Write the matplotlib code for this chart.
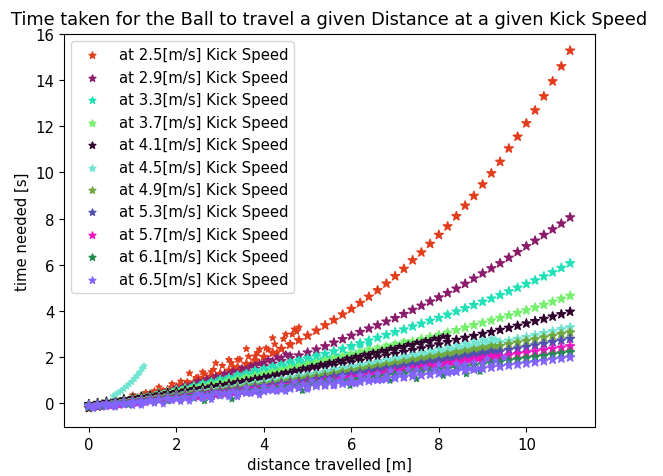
import matplotlib
matplotlib.use("Agg")
import matplotlib.pyplot as plt
import numpy as np

KICK_SPEEDS = [2.5, 2.9, 3.3, 3.7, 4.1, 4.5, 4.9, 5.3, 5.7, 6.1, 6.5]
COLORS = ['#e23d1c', '#8b1c6b', '#22e0b8', '#74f06c', '#30002e', '#72e4d2',
          '#6fa83e', '#4f4fb0', '#f012c0', '#1f8a4a', '#8464ff']

# model curve, one value every 0.2 m
MODEL_D = [0.0, 0.2, 0.4, 0.6, 0.8, 1.0, 1.2, 1.4, 1.6, 1.8, 2.0, 2.2, 2.4, 2.6, 2.8,
           3.0, 3.2, 3.4, 3.6, 3.8, 4.0, 4.2, 4.4, 4.6, 4.8, 5.0, 5.2, 5.4, 5.6, 5.8,
           6.0, 6.2, 6.4, 6.6, 6.8, 7.0, 7.2, 7.4, 7.6, 7.8, 8.0, 8.2, 8.4, 8.6, 8.8,
           9.0, 9.2, 9.4, 9.6, 9.8, 10.0, 10.2, 10.4, 10.6, 10.8, 11.0]

model_25 = [-0.22, -0.14, -0.06, 0.02, 0.10, 0.18, 0.27, 0.36, 0.46, 0.56, 0.67, 0.78, 0.89, 1.01, 1.13,
            1.26, 1.40, 1.54, 1.69, 1.84, 2.00, 2.17, 2.35, 2.53, 2.72, 2.92, 3.14, 3.37, 3.60, 3.84,
            4.08, 4.34, 4.61, 4.89, 5.18, 5.50, 5.82, 6.19, 6.53, 6.90, 7.29, 7.66, 8.10, 8.56, 8.98,
            9.48, 9.96, 10.46, 11.04, 11.55, 12.13, 12.69, 13.30, 13.95, 14.60, 15.28]
model_29 = [-0.20, -0.13, -0.06, 0.02, 0.09, 0.17, 0.25, 0.33, 0.42, 0.50, 0.59, 0.68, 0.77, 0.86, 0.96,
            1.06, 1.16, 1.27, 1.37, 1.48, 1.59, 1.71, 1.82, 1.94, 2.06, 2.19, 2.32, 2.46, 2.62, 2.77,
            2.92, 3.08, 3.23, 3.37, 3.53, 3.68, 3.86, 4.04, 4.22, 4.40, 4.58, 4.77, 4.96, 5.17, 5.40,
            5.62, 5.84, 6.06, 6.30, 6.55, 6.80, 7.04, 7.29, 7.53, 7.78, 8.05]
model_33 = [-0.15, -0.09, -0.02, 0.05, 0.12, 0.19, 0.26, 0.33, 0.41, 0.48, 0.56, 0.64, 0.72, 0.80, 0.89,
            0.97, 1.06, 1.15, 1.24, 1.33, 1.42, 1.52, 1.62, 1.72, 1.82, 1.92, 2.02, 2.13, 2.24, 2.35,
            2.47, 2.59, 2.71, 2.83, 2.95, 3.07, 3.19, 3.32, 3.44, 3.57, 3.69, 3.83, 3.97, 4.11, 4.25,
            4.39, 4.53, 4.68, 4.84, 5.00, 5.16, 5.32, 5.49, 5.67, 5.86, 6.06]
model_37 = [-0.05, 0.01, 0.06, 0.12, 0.17, 0.23, 0.29, 0.35, 0.41, 0.47, 0.53, 0.60, 0.66, 0.73, 0.79,
            0.86, 0.93, 1.00, 1.07, 1.14, 1.21, 1.29, 1.36, 1.44, 1.51, 1.59, 1.67, 1.76, 1.84, 1.93,
            2.01, 2.10, 2.19, 2.28, 2.37, 2.46, 2.56, 2.66, 2.77, 2.86, 2.95, 3.05, 3.16, 3.27, 3.38,
            3.48, 3.58, 3.69, 3.80, 3.91, 4.02, 4.14, 4.26, 4.39, 4.52, 4.65]
model_41 = [-0.05, 0.00, 0.05, 0.11, 0.16, 0.21, 0.26, 0.32, 0.37, 0.43, 0.48, 0.54, 0.60, 0.65, 0.71,
            0.77, 0.83, 0.89, 0.95, 1.02, 1.08, 1.14, 1.21, 1.28, 1.34, 1.41, 1.48, 1.55, 1.62, 1.69,
            1.76, 1.83, 1.91, 1.98, 2.06, 2.13, 2.21, 2.29, 2.37, 2.45, 2.54, 2.64, 2.74, 2.83, 2.91,
            3.00, 3.08, 3.17, 3.26, 3.35, 3.45, 3.55, 3.65, 3.75, 3.85, 3.96]
model_45 = [-0.10, -0.06, -0.01, 0.03, 0.08, 0.12, 0.17, 0.22, 0.26, 0.31, 0.36, 0.41, 0.46, 0.51, 0.56,
            0.61, 0.66, 0.71, 0.76, 0.82, 0.87, 0.93, 0.98, 1.04, 1.09, 1.15, 1.21, 1.27, 1.33, 1.39,
            1.45, 1.51, 1.58, 1.64, 1.71, 1.77, 1.84, 1.91, 1.97, 2.04, 2.11, 2.18, 2.25, 2.33, 2.40,
            2.47, 2.55, 2.63, 2.70, 2.78, 2.86, 2.94, 3.03, 3.11, 3.20, 3.28]
model_49 = [-0.10, -0.06, -0.02, 0.03, 0.07, 0.11, 0.15, 0.20, 0.24, 0.29, 0.33, 0.38, 0.43, 0.47, 0.52,
            0.57, 0.62, 0.67, 0.72, 0.77, 0.82, 0.87, 0.93, 0.98, 1.04, 1.09, 1.15, 1.20, 1.26, 1.31,
            1.37, 1.43, 1.49, 1.55, 1.61, 1.67, 1.73, 1.80, 1.86, 1.93, 1.99, 2.06, 2.13, 2.19, 2.26,
            2.33, 2.40, 2.47, 2.55, 2.62, 2.69, 2.76, 2.84, 2.91, 2.99, 3.06]
model_53 = [-0.10, -0.06, -0.02, 0.01, 0.05, 0.09, 0.13, 0.17, 0.21, 0.25, 0.29, 0.33, 0.37, 0.42, 0.46,
            0.50, 0.55, 0.59, 0.64, 0.68, 0.73, 0.78, 0.83, 0.87, 0.92, 0.97, 1.02, 1.07, 1.13, 1.18,
            1.23, 1.28, 1.34, 1.39, 1.45, 1.50, 1.56, 1.62, 1.67, 1.73, 1.79, 1.85, 1.91, 1.98, 2.04,
            2.10, 2.17, 2.23, 2.30, 2.36, 2.43, 2.50, 2.57, 2.64, 2.71, 2.78]
model_57 = [-0.10, -0.07, -0.03, 0.00, 0.04, 0.08, 0.11, 0.15, 0.19, 0.22, 0.26, 0.30, 0.34, 0.38, 0.42,
            0.46, 0.50, 0.54, 0.58, 0.62, 0.66, 0.70, 0.75, 0.79, 0.83, 0.88, 0.92, 0.97, 1.01, 1.06,
            1.11, 1.16, 1.20, 1.25, 1.30, 1.35, 1.40, 1.45, 1.51, 1.56, 1.61, 1.67, 1.72, 1.78, 1.83,
            1.89, 1.94, 2.00, 2.06, 2.12, 2.17, 2.23, 2.29, 2.35, 2.40, 2.46]
model_61 = [-0.10, -0.07, -0.04, 0.00, 0.03, 0.06, 0.09, 0.13, 0.16, 0.20, 0.23, 0.27, 0.30, 0.34, 0.37,
            0.41, 0.45, 0.49, 0.52, 0.56, 0.60, 0.64, 0.68, 0.72, 0.76, 0.80, 0.84, 0.88, 0.92, 0.96,
            1.00, 1.04, 1.09, 1.13, 1.18, 1.22, 1.26, 1.31, 1.35, 1.40, 1.44, 1.49, 1.54, 1.58, 1.63,
            1.68, 1.73, 1.78, 1.84, 1.89, 1.94, 1.99, 2.04, 2.10, 2.15, 2.20]
model_65 = [-0.12, -0.09, -0.06, -0.03, 0.00, 0.03, 0.06, 0.09, 0.13, 0.16, 0.19, 0.22, 0.25, 0.28, 0.32,
            0.35, 0.38, 0.42, 0.45, 0.49, 0.52, 0.56, 0.59, 0.63, 0.66, 0.70, 0.74, 0.77, 0.81, 0.84,
            0.88, 0.92, 0.96, 1.00, 1.04, 1.08, 1.12, 1.16, 1.20, 1.24, 1.28, 1.32, 1.36, 1.41, 1.45,
            1.49, 1.54, 1.58, 1.63, 1.67, 1.72, 1.77, 1.82, 1.88, 1.93, 1.98]

# measured samples, one every 0.1 m (each series uses the first len() distances)
MEAS_D = [0.0, 0.1, 0.2, 0.3, 0.4, 0.5, 0.6, 0.7, 0.8, 0.9, 1.0, 1.1, 1.2, 1.3, 1.4, 1.5, 1.6, 1.7, 1.8, 1.9,
          2.0, 2.1, 2.2, 2.3, 2.4, 2.5, 2.6, 2.7, 2.8, 2.9, 3.0, 3.1, 3.2, 3.3, 3.4, 3.5, 3.6, 3.7, 3.8, 3.9,
          4.0, 4.1, 4.2, 4.3, 4.4, 4.5, 4.6, 4.7, 4.8, 4.9, 5.0, 5.1, 5.2, 5.3, 5.4, 5.5, 5.6, 5.7, 5.8, 5.9,
          6.0, 6.1, 6.2, 6.3, 6.4, 6.5, 6.6, 6.7, 6.8, 6.9, 7.0, 7.1, 7.2, 7.3, 7.4, 7.5, 7.6, 7.7, 7.8, 7.9,
          8.0, 8.1, 8.2, 8.3, 8.4, 8.5, 8.6, 8.7, 8.8, 8.9, 9.0, 9.1, 9.2, 9.3, 9.4, 9.5]

meas_25 = [-0.16, -0.23, -0.10, 0.01, -0.06, -0.09, 0.13, 0.08, 0.18, 0.11, 0.34, 0.22, 0.34, 0.45, 0.31,
           0.52, 0.69, 0.54, 0.46, 0.83, 0.72, 0.94, 0.68, 1.29, 0.87, 1.11, 1.34, 0.88, 1.35, 1.73,
           1.27, 1.01, 1.88, 1.57, 1.88, 1.45, 2.35, 1.69, 2.03, 2.33, 1.66, 2.32, 2.82, 2.20, 1.84,
           2.98, 2.57, 3.20, 3.28]
# in-between red samples (x + 0.05) along the top of the wide 2.5 m/s cloud
RED_HALF_D = [1.05, 1.25, 1.45, 1.65, 1.85, 2.05, 2.25, 2.45, 2.65, 2.85, 3.05, 3.25, 3.45, 3.65,
              3.85, 4.05, 4.25, 4.45, 4.65, 4.75]
RED_HALF_T = [0.27, 0.34, 0.43, 0.50, 0.60, 0.74, 0.92, 1.10, 1.25, 1.45, 1.62, 1.75, 1.90, 2.02,
              2.18, 2.38, 2.55, 2.78, 2.98, 3.10]
meas_29 = [-0.22, -0.14, -0.17, -0.05, -0.09, 0.03, -0.02, 0.09, 0.06, 0.15, 0.13, 0.25, 0.20, 0.31, 0.36,
           0.33, 0.46, 0.43, 0.55, 0.53, 0.66, 0.62, 0.77, 0.74, 0.84, 0.95, 0.90, 1.05, 1.02, 1.17,
           1.13, 1.29, 1.25, 1.39, 1.34, 1.52, 1.47, 1.60, 1.65, 1.72, 1.76, 1.88, 1.85, 1.99, 1.97,
           2.12, 2.08]
meas_33 = [-0.18, -0.24, -0.10, -0.15, -0.02, -0.07, 0.05, 0.01, 0.12, 0.07, 0.19, 0.15, 0.26, 0.21, 0.35,
           0.29, 0.42, 0.38, 0.50, 0.45, 0.60, 0.53, 0.68, 0.63, 0.77, 0.70, 0.88, 0.79, 0.95, 0.88,
           1.07, 0.96, 1.14, 1.05, 1.26, 1.11, 1.33, 1.22, 1.45, 1.29, 1.52, 1.38, 1.63, 1.46, 1.70,
           1.55, 1.82, 1.62, 1.90, 1.71, 1.97, 1.80, 2.08, 1.86, 2.14, 1.95, 2.24, 2.02, 2.33, 2.08,
           2.41, 2.15, 2.50, 2.22, 2.57]
meas_37 = [-0.17, -0.20, -0.11, -0.14, -0.04, -0.06, 0.01, 0.04, 0.02, 0.11, 0.10, 0.18, 0.15, 0.25, 0.22,
           0.32, 0.30, 0.37, 0.39, 0.47, 0.44, 0.55, 0.52, 0.60, 0.63, 0.67, 0.74, 0.72, 0.83, 0.79,
           0.90, 0.86, 0.98, 0.95, 1.05, 1.02, 1.14, 1.10, 1.22, 1.18, 1.30, 1.26, 1.38, 1.34, 1.46,
           1.42, 1.55, 1.50, 1.63, 1.59, 1.72, 1.67, 1.80, 1.76, 1.89, 1.85, 1.98, 1.93, 2.07, 2.02,
           2.16, 2.11, 2.25, 2.20, 2.34, 2.28, 2.42, 2.37, 2.51, 2.46, 2.59, 2.54, 2.68, 2.62]
meas_41 = [-0.25, -0.18, -0.19, -0.12, -0.13, -0.07, -0.08, -0.01, -0.02, 0.04, 0.03, 0.10, 0.09, 0.16, 0.15,
           0.23, 0.21, 0.29, 0.27, 0.35, 0.34, 0.42, 0.41, 0.48, 0.47, 0.56, 0.54, 0.63, 0.61, 0.71,
           0.70, 0.78, 0.77, 0.85, 0.84, 0.93, 0.92, 1.00, 0.99, 1.08, 1.08, 1.16, 1.15, 1.25, 1.24,
           1.33, 1.32, 1.42, 1.40, 1.51, 1.50, 1.59, 1.58, 1.68, 1.67, 1.76, 1.75, 1.85, 1.84, 1.94,
           1.93, 2.02, 2.01, 2.11, 2.10, 2.19, 2.18, 2.28, 2.27, 2.37, 2.36, 2.45, 2.44, 2.54, 2.53,
           2.63, 2.62, 2.71, 2.70, 2.80, 2.80, 2.89, 2.88]
meas_45 = [-0.12, -0.17, -0.09, -0.13, -0.05, -0.09, -0.01, -0.04, 0.05, 0.00, 0.09, 0.04, 0.13, 0.09, 0.18,
           0.13, 0.24, 0.18, 0.29, 0.23, 0.34, 0.28, 0.39, 0.34, 0.45, 0.39, 0.51, 0.45, 0.57, 0.50,
           0.63, 0.56, 0.69, 0.62, 0.76, 0.68, 0.82, 0.75, 0.89, 0.81, 0.93, 0.87, 1.00, 0.94, 1.07,
           1.00, 1.14, 1.07, 1.21, 1.13, 1.25, 1.20, 1.32, 1.27, 1.40, 1.34, 1.47, 1.41, 1.54, 1.48,
           1.60, 1.55, 1.67, 1.62, 1.74, 1.69, 1.81, 1.76, 1.88, 1.83, 1.95, 1.90, 2.03, 1.97, 2.11,
           2.05, 2.18, 2.13, 2.26, 2.20, 2.33, 2.28, 2.41, 2.36, 2.49, 2.44, 2.57, 2.52, 2.65, 2.60,
           2.73, 2.67, 2.80, 2.74]
meas_49 = [-0.13, -0.17, -0.10, -0.14, -0.07, -0.10, -0.03, -0.06, 0.02, -0.02, 0.06, 0.02, 0.10, 0.06, 0.15,
           0.10, 0.19, 0.15, 0.24, 0.19, 0.28, 0.24, 0.33, 0.28, 0.38, 0.33, 0.43, 0.38, 0.48, 0.43,
           0.53, 0.49, 0.59, 0.54, 0.65, 0.60, 0.70, 0.65, 0.76, 0.71, 0.81, 0.77, 0.88, 0.83, 0.94,
           0.89, 1.00, 0.95, 1.06, 1.01, 1.12, 1.07, 1.18, 1.14, 1.25, 1.20, 1.31, 1.27, 1.38, 1.33,
           1.44, 1.39, 1.50, 1.46, 1.57, 1.52, 1.63, 1.59, 1.70, 1.65, 1.76, 1.72, 1.83, 1.78, 1.89,
           1.85, 1.96, 1.92, 2.03, 1.98, 2.09, 2.05, 2.16, 2.12, 2.23, 2.18, 2.29, 2.25, 2.36, 2.32,
           2.42, 2.38, 2.49, 2.45]
meas_53 = [-0.16, -0.20, -0.13, -0.17, -0.10, -0.13, -0.06, -0.09, -0.02, -0.05, 0.03, -0.01, 0.07, 0.03, 0.11,
           0.07, 0.15, 0.11, 0.19, 0.15, 0.23, 0.19, 0.28, 0.23, 0.32, 0.28, 0.37, 0.32, 0.42, 0.37,
           0.46, 0.42, 0.51, 0.47, 0.56, 0.52, 0.62, 0.57, 0.67, 0.62, 0.72, 0.67, 0.77, 0.73, 0.83,
           0.78, 0.88, 0.84, 0.94, 0.89, 0.99, 0.95, 1.05, 1.01, 1.11, 1.07, 1.17, 1.13, 1.23, 1.19,
           1.28, 1.24, 1.34, 1.30, 1.40, 1.36, 1.46, 1.42, 1.52, 1.48, 1.57, 1.53, 1.63, 1.59, 1.70,
           1.65, 1.76, 1.72, 1.82, 1.78, 1.88, 1.84, 1.94, 1.90, 2.00, 1.96, 2.07, 2.03, 2.13, 2.09,
           2.19, 2.15, 2.26, 2.21]
meas_57 = [-0.19, -0.22, -0.15, -0.18, -0.12, -0.14, -0.08, -0.11, -0.04, -0.07, -0.01, -0.03, 0.03, 0.00, 0.07,
           0.04, 0.11, 0.08, 0.15, 0.12, 0.19, 0.16, 0.23, 0.20, 0.27, 0.24, 0.32, 0.28, 0.36, 0.33,
           0.40, 0.37, 0.45, 0.41, 0.49, 0.46, 0.54, 0.50, 0.58, 0.55, 0.62, 0.60, 0.67, 0.64, 0.72,
           0.69, 0.77, 0.74, 0.82, 0.79, 0.87, 0.84, 0.92, 0.89, 0.97, 0.94, 1.02, 0.99, 1.07, 1.04,
           1.12, 1.10, 1.18, 1.15, 1.23, 1.21, 1.29, 1.26, 1.35, 1.32, 1.40, 1.37, 1.46, 1.43, 1.52,
           1.49, 1.57, 1.55, 1.63, 1.60, 1.68, 1.66, 1.74, 1.72, 1.80, 1.78, 1.86, 1.84, 1.92, 1.90,
           1.98, 1.96, 2.04, 2.02]
meas_65 = [-0.16, -0.24, -0.16, -0.08, -0.18, -0.10, -0.19, -0.02, -0.10, -0.03, -0.12, 0.03, -0.11, 0.02, 0.14,
           -0.02, 0.10, -0.05, 0.21, 0.09, 0.20, 0.06, 0.27, 0.07, 0.24, 0.40, 0.18, 0.33, 0.14, 0.45,
           0.31, 0.43, 0.26, 0.51, 0.26, 0.47, 0.66, 0.40, 0.57, 0.34, 0.72, 0.54, 0.68, 0.49, 0.77,
           0.49, 0.71, 0.91, 0.64, 0.82, 0.58, 0.96, 0.78, 0.93, 0.73, 1.01, 0.73, 0.95, 1.16, 0.88,
           1.06, 0.82, 1.21, 1.03, 1.17, 0.98, 1.26, 0.98, 1.20, 1.41, 1.13, 1.31, 1.08, 1.46, 1.28,
           1.43, 1.23, 1.51, 1.23, 1.46, 1.66, 1.38, 1.57, 1.33, 1.71, 1.54, 1.68, 1.48, 1.76, 1.49,
           1.71, 1.91, 1.63, 1.82, 1.58, 1.96]

# sparser 6.1 m/s samples
SEA_D = [0.0, 0.3, 0.6, 0.9, 1.2, 1.5, 1.8, 2.1, 2.4, 2.64, 3.0, 3.27, 3.6, 3.9, 4.2,
         4.5, 4.88, 5.2, 5.6, 5.97, 6.3, 6.6, 6.88, 7.2, 7.49, 7.8, 8.1, 8.4, 8.63, 8.94]
meas_61 = [-0.22, -0.16, -0.12, -0.08, -0.02, 0.02, 0.08, 0.14, 0.20, 0.09, 0.30, 0.17, 0.44, 0.50, 0.57,
           0.64, 0.53, 0.80, 0.88, 0.75, 1.04, 1.10, 0.97, 1.24, 1.04, 1.38, 1.18, 1.52, 1.26, 1.36]

# odd 4.5 m/s run that climbs steeply
BRANCH_D = [0.56, 0.62, 0.68, 0.74, 0.80, 0.86, 0.92, 0.98, 1.04, 1.10, 1.16, 1.22, 1.26]
BRANCH_T = [0.30, 0.38, 0.45, 0.53, 0.62, 0.72, 0.82, 0.92, 1.05, 1.18, 1.33, 1.50, 1.60]

models = [model_25, model_29, model_33, model_37, model_41, model_45,
          model_49, model_53, model_57, model_61, model_65]
meas = [meas_25, meas_29, meas_33, meas_37, meas_41, meas_45,
        meas_49, meas_53, meas_57, meas_61, meas_65]

S_MEAS = 20
S_MODEL = 44

plt.rcParams['font.size'] = 10.7

fig = plt.figure(figsize=(6.63, 4.77), dpi=100)
ax = fig.add_axes([0.0965, 0.1027, 0.801, 0.8239])

for i, v in enumerate(KICK_SPEEDS):
    if v == 6.1:
        mx = list(SEA_D)
    else:
        mx = MEAS_D[:len(meas[i])]
    my = list(meas[i])
    if v == 2.5:
        mx = mx + RED_HALF_D
        my = my + RED_HALF_T
    if v == 4.5:
        mx = mx + BRANCH_D
        my = my + BRANCH_T
    x = np.array(mx + MODEL_D)
    y = np.array(my + models[i])
    s = [S_MEAS] * len(mx) + [S_MODEL] * len(MODEL_D)
    ax.scatter(x, y, s=s, marker='*', color=COLORS[i],
               label=f"at {v}[m/s] Kick Speed")

ax.set_xlim(-0.57, 11.57)
ax.set_ylim(-1.04, 16.0)
ax.set_xticks([0, 2, 4, 6, 8, 10])
ax.set_yticks([0, 2, 4, 6, 8, 10, 12, 14, 16])
ax.set_title("Time taken for the Ball to travel a given Distance at a given Kick Speed",
             fontsize=12.8, pad=7)
ax.set_xlabel("distance travelled [m]")
ax.set_ylabel("time needed [s]")
ax.legend(loc='upper left', markerscale=0.9)

fig.savefig("out.png", dpi=100)
